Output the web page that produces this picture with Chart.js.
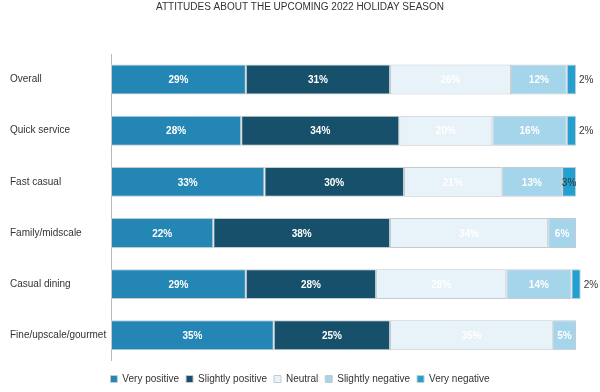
<!DOCTYPE html>
<html>
<head>
<meta charset="utf-8">
<script src="https://cdn.jsdelivr.net/npm/chart.js@4.4.1/dist/chart.umd.min.js"></script>
<style>
    html, body { margin: 0; padding: 0; background: #fff; }
    #wrap { width: 600px; height: 392px; }
</style>
</head>
<body>
<div id="wrap"><canvas id="myChart" width="600" height="392"></canvas></div>
<script>
// categories and series (percent)
const categories = ['Overall', 'Quick service', 'Fast casual', 'Family/midscale', 'Casual dining', 'Fine/upscale/gourmet'];
const veryPositive = [29, 28, 33, 22, 29, 35];
const slightlyPositive = [31, 34, 30, 38, 28, 25];
const neutral = [26, 20, 21, 34, 28, 35];
const slightlyNegative = [12, 16, 13, 6, 14, 5];
const veryNegative = [2, 2, 3, 0, 2, 0];

const FONT = "'Liberation Sans', Arial, sans-serif";

// draws the % labels on the bars
const barLabels = {
    id: 'barLabels',
    afterDatasetsDraw(chart) {
        const ctx = chart.ctx;
        ctx.save();
        ctx.textBaseline = 'middle';
        chart.data.datasets.forEach((ds, i) => {
            const meta = chart.getDatasetMeta(i);
            meta.data.forEach((bar, j) => {
                const v = ds.data[j];
                if (!v) return;
                const mid = (bar.x + bar.base) / 2;
                if (v <= 2) {
                    // small slice, label goes outside the bar
                    ctx.font = '10px ' + FONT;
                    ctx.fillStyle = '#333333';
                    ctx.textAlign = 'left';
                    ctx.fillText(v + '%', bar.x + 3, bar.y + 1);
                } else if (v < 5) {
                    ctx.font = '10px ' + FONT;
                    ctx.fillStyle = '#333333';
                    ctx.textAlign = 'center';
                    ctx.fillText(v + '%', mid, bar.y + 1);
                } else {
                    ctx.font = 'bold 10px ' + FONT;
                    ctx.fillStyle = '#ffffff';
                    ctx.textAlign = 'center';
                    ctx.fillText(v + '%', mid, bar.y + 1);
                }
            });
        });
        ctx.restore();
    }
};

const makeSet = (label, data, color) => ({
    label: label,
    data: data,
    backgroundColor: color,
    borderColor: '#c3cbd1',
    borderWidth: 1,
    borderSkipped: false,
    barPercentage: 0.585,
    categoryPercentage: 1,
    clip: false,
});

const ctx = document.getElementById('myChart').getContext('2d');
const myChart = new Chart(ctx, {
    type: 'bar',
    data: {
        labels: categories,
        datasets: [
            makeSet('Very positive', veryPositive, '#2386b4'),
            makeSet('Slightly positive', slightlyPositive, '#16506a'),
            makeSet('Neutral', neutral, '#e8f2f9'),
            makeSet('Slightly negative', slightlyNegative, '#a5d5ea'),
            makeSet('Very negative', veryNegative, '#239fd0'),
        ]
    },
    options: {
        indexAxis: 'y',
        responsive: false,
        animation: false,
        layout: { padding: { left: 10, right: 10, top: 0, bottom: -2 } },
        scales: {
            x: {
                stacked: true,
                display: false,
                min: 0,
                max: 103, // leaves room on the right for the outside labels
            },
            y: {
                stacked: true,
                grid: { display: false, drawTicks: false },
                border: { display: true, color: '#b8b8b8', width: 1 },
                ticks: {
                    color: '#333333',
                    font: { family: FONT, size: 10 },
                    crossAlign: 'far',
                    padding: 6,
                },
                afterFit(scale) { scale.width = 101; },
            }
        },
        plugins: {
            title: {
                display: true,
                text: 'ATTITUDES ABOUT THE UPCOMING 2022 HOLIDAY SEASON',
                color: '#333333',
                font: { family: FONT, size: 10, weight: 'normal' },
                padding: { top: 1, bottom: 41 },
            },
            legend: {
                position: 'bottom',
                // empty title only used as a spacer above the legend row
                title: { display: true, text: '', font: { size: 1 }, padding: { top: 5, bottom: 0 } },
                labels: {
                    boxWidth: 7,
                    boxHeight: 7,
                    color: '#333333',
                    font: { family: FONT, size: 10 },
                    padding: 7,
                }
            },
            tooltip: { enabled: false },
        }
    },
    plugins: [barLabels]
});
</script>
</body>
</html>
